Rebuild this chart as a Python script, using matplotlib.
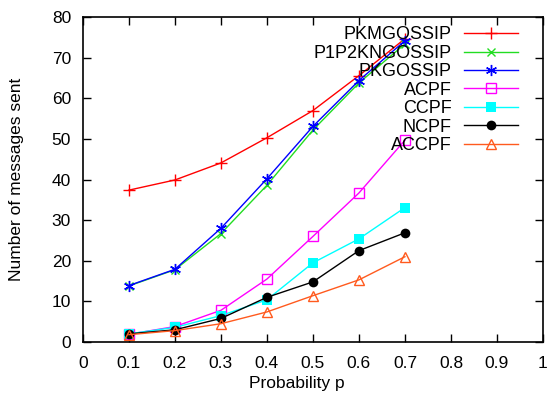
import matplotlib
matplotlib.use("Agg")
import matplotlib.pyplot as plt

plt.rcParams['font.family'] = ['Liberation Sans', 'DejaVu Sans']

p = [0.1, 0.2, 0.3, 0.4, 0.5, 0.6, 0.7]
pkmgossip = [37.4, 39.9, 44.1, 50.3, 57.0, 65.6, 74.7]
p1p2kngossip = [13.8, 17.8, 26.7, 38.6, 52.2, 63.8, 73.4]
pkgossip = [13.9, 17.9, 28.0, 40.2, 53.1, 64.4, 74.2]
acpf = [1.9, 3.8, 7.8, 15.5, 26.0, 36.7, 49.7]
ccpf = [2.0, 3.6, 6.5, 10.4, 19.5, 25.4, 33.1]
ncpf = [2.0, 3.0, 5.8, 11.0, 14.8, 22.5, 26.9]
accpf = [1.8, 2.8, 4.5, 7.4, 11.4, 15.3, 21.0]

series = [
    ("PKMGOSSIP", pkmgossip, "#ff0000", dict(marker="+", ms=8, mew=1.0)),
    ("P1P2KNGOSSIP", p1p2kngossip, "#22dd22", dict(marker="x", ms=6, mew=1.0)),
    ("PKGOSSIP", pkgossip, "#0000ff", dict(marker=(6, 2, 0), ms=8, mew=1.0)),
    ("ACPF", acpf, "#ff00ff", dict(marker="s", ms=6.5, mfc="none", mew=1.0)),
    ("CCPF", ccpf, "#00ffff", dict(marker="s", ms=6.5, mew=0)),
    ("NCPF", ncpf, "#000000", dict(marker="o", ms=7, mew=0)),
    ("ACCPF", accpf, "#ff5a1e", dict(marker="^", ms=7, mfc="none", mew=1.0)),
]

fig = plt.figure(figsize=(5.49, 4.04), dpi=100)
ax = fig.add_axes([0.151, 0.1535, 0.838, 0.804])

for label, vals, color, kw in series:
    ax.plot(p, vals, color=color, lw=1.0, label=label, **kw)

ax.set_xlim(0, 1)
ax.set_ylim(0, 80)
ax.set_xticks([i / 10 for i in range(11)])
ax.set_xticklabels(["0", "0.1", "0.2", "0.3", "0.4", "0.5", "0.6", "0.7", "0.8", "0.9", "1"])
ax.set_yticks(range(0, 81, 10))
ax.tick_params(direction="in", top=True, right=True, length=6, width=1.0, labelsize=12.5)
ax.tick_params(axis="y", pad=8.5)
ax.tick_params(axis="x", pad=10)
for s in ax.spines.values():
    s.set_linewidth(1.2)

ax.set_xlabel("Probability p", fontsize=12.5)
ax.xaxis.set_label_coords(0.466, -0.105)
ax.set_ylabel("Number of messages sent", fontsize=12.5)
ax.yaxis.set_label_coords(-0.128, 0.5)

leg = ax.legend(loc="upper right", markerfirst=False, frameon=False, fontsize=13,
                labelspacing=0.08, handlelength=3.0, handletextpad=0.7,
                borderaxespad=0.2, bbox_to_anchor=(0.97, 1.005))

fig.savefig("out.png", dpi=100)
